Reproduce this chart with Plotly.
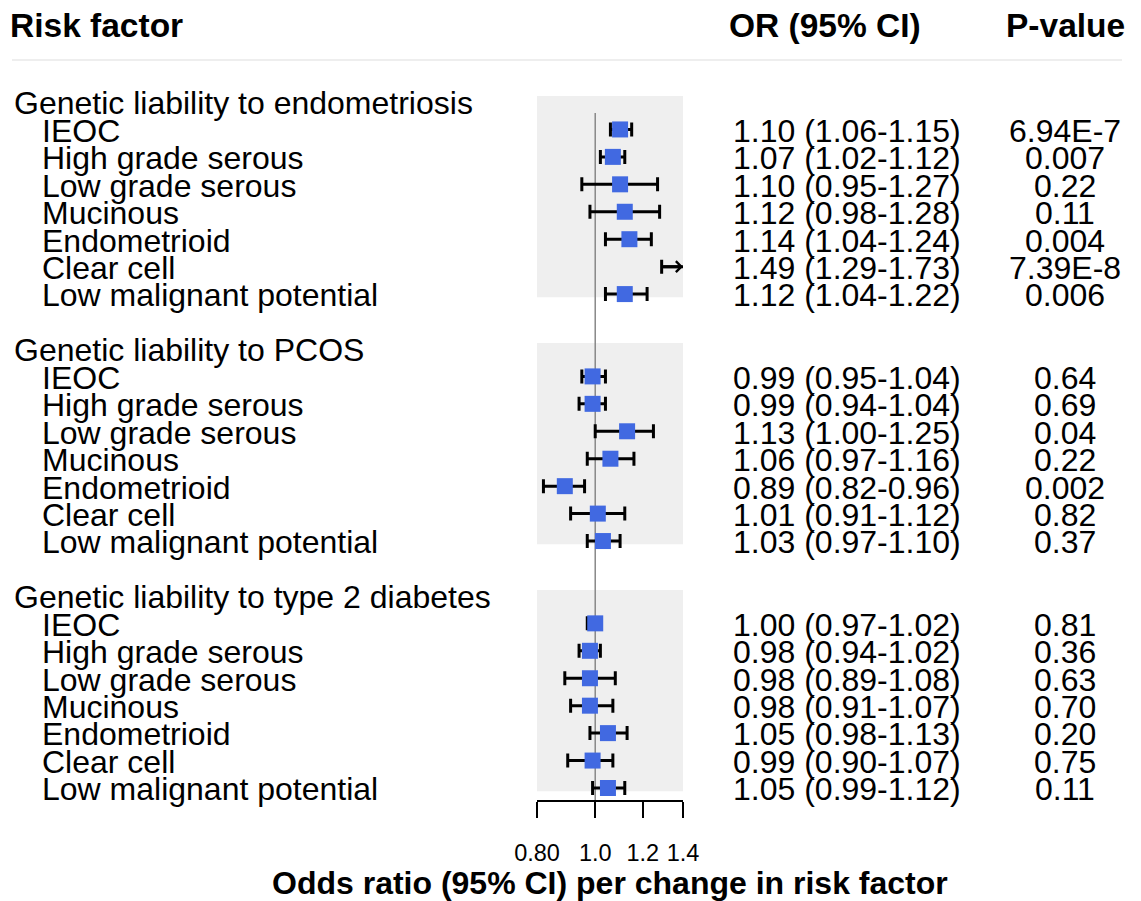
import math
import plotly.graph_objects as go

# ---------------- data ----------------
groups = ["Genetic liability to endometriosis",
          "Genetic liability to PCOS",
          "Genetic liability to type 2 diabetes"]
subtypes = ["IEOC", "High grade serous", "Low grade serous", "Mucinous",
            "Endometrioid", "Clear cell", "Low malignant potential"]

endo_or = [1.10, 1.07, 1.10, 1.12, 1.14, 1.49, 1.12]
endo_lo = [1.06, 1.02, 0.95, 0.98, 1.04, 1.29, 1.04]
endo_hi = [1.15, 1.12, 1.27, 1.28, 1.24, 1.73, 1.22]
endo_p = ["6.94E-7", "0.007", "0.22", "0.11", "0.004", "7.39E-8", "0.006"]

pcos_or = [0.99, 0.99, 1.13, 1.06, 0.89, 1.01, 1.03]
pcos_lo = [0.95, 0.94, 1.00, 0.97, 0.82, 0.91, 0.97]
pcos_hi = [1.04, 1.04, 1.25, 1.16, 0.96, 1.12, 1.10]
pcos_p = ["0.64", "0.69", "0.04", "0.22", "0.002", "0.82", "0.37"]

t2d_or = [1.00, 0.98, 0.98, 0.98, 1.05, 0.99, 1.05]
t2d_lo = [0.97, 0.94, 0.89, 0.91, 0.98, 0.90, 0.99]
t2d_hi = [1.02, 1.02, 1.08, 1.07, 1.13, 1.07, 1.12]
t2d_p = ["0.81", "0.36", "0.63", "0.70", "0.20", "0.75", "0.11"]

tick_vals = [0.8, 1.0, 1.2, 1.4]
tick_text = ["0.80", "1.0", "1.2", "1.4"]
X_MIN, X_MAX = 0.8, 1.4

col_headers = ["Risk factor", "OR (95% CI)", "P-value"]
x_title = "Odds ratio (95% CI) per change in risk factor"

# ---------------- layout constants ----------------
W, H = 1141, 901
OFF = 8                      # page body margin
FONT = "Liberation Sans, Arial, sans-serif"
FS = 32
FSB = 33.5
ROW0 = 102 - OFF             # pixel of first row
ROWH = 27.44                 # row pitch in px
AXIS_PX = 800 - OFF          # x-axis line pixel
ROW_TOP = (0 - ROW0) / ROWH
ROW_BOT = (AXIS_PX - ROW0) / ROWH
TXT_DY = 0.05                # small vertical nudge for text rows

all_or = [endo_or, pcos_or, t2d_or]
all_lo = [endo_lo, pcos_lo, t2d_lo]
all_hi = [endo_hi, pcos_hi, t2d_hi]
all_p = [endo_p, pcos_p, t2d_p]

xs, ys, ep, em = [], [], [], []
annotations = []
shapes = []
arrows = []


def px(v):
    return (v - OFF) / W


def txt(x, y, s, anchor="left", size=FS):
    return dict(x=px(x), y=y, xref="paper", yref="y", text=s,
                xanchor=anchor, yanchor="middle", showarrow=False,
                font=dict(family=FONT, size=size, color="black"))


for gi, gname in enumerate(groups):
    hrow = gi * 9
    annotations.append(txt(12, hrow + TXT_DY, gname))
    shapes.append(dict(type="rect", xref="x domain", yref="y", x0=0, x1=1,
                       y0=hrow - 0.22, y1=hrow + 7.12, fillcolor="#EFEFEF",
                       line=dict(width=0), layer="below"))
    for k, st in enumerate(subtypes):
        r = hrow + 1 + k
        o, lo, hi = all_or[gi][k], all_lo[gi][k], all_hi[gi][k]
        xs.append(o)
        ys.append(r)
        ep.append(hi - o)
        em.append(o - lo)
        if o > X_MAX:
            arrows.append((lo, r))
        annotations.append(txt(40, r + TXT_DY, st))
        annotations.append(txt(731, r + TXT_DY, f"{o:.2f} ({lo:.2f}-{hi:.2f})"))
        annotations.append(txt(1065, r + TXT_DY, all_p[gi][k], anchor="center"))

# column headers
hdr_row = (25 - 102) / ROWH
annotations.append(txt(8, hdr_row, f"<b>{col_headers[0]}</b>", size=FSB))
annotations.append(txt(727, hdr_row, f"<b>{col_headers[1]}</b>", size=FSB))
annotations.append(txt(1065, hdr_row, f"<b>{col_headers[2]}</b>", anchor="center", size=FSB))

# arrows for out-of-range estimates
for lo, r in arrows:
    annotations.append(dict(x=math.log10(X_MAX), y=r, ax=math.log10(lo), ay=r,
                            xref="x", yref="y", axref="x", ayref="y", text="",
                            showarrow=True, arrowhead=4, arrowsize=0.7,
                            arrowwidth=3, arrowcolor="black"))

# header separator line
sep_row = (60 - 102) / ROWH
shapes.append(dict(type="line", xref="paper", yref="y", x0=px(12), x1=px(1122),
                   y0=sep_row, y1=sep_row, line=dict(color="#DDDDDD", width=1)))
# reference line at OR = 1
shapes.append(dict(type="line", xref="x", yref="y", x0=1.0, x1=1.0,
                   y0=0.4, y1=ROW_BOT, line=dict(color="#888888", width=1.5),
                   layer="below"))

fig = go.Figure()
fig.add_trace(go.Scatter(
    x=xs, y=ys, mode="markers",
    marker=dict(symbol="square", size=16, color="#4169E1", line=dict(width=0)),
    error_x=dict(type="data", symmetric=False, array=ep, arrayminus=em,
                 color="black", thickness=3, width=7),
    cliponaxis=True, showlegend=False, hoverinfo="skip"))

# x-axis title as a paper annotation under the axis
annotations.append(dict(x=((537 + 683) / 2 - OFF) / W, y=1 - (883 - OFF) / H,
                        xref="paper", yref="paper", text=f"<b>{x_title}</b>",
                        xanchor="center", yanchor="middle", showarrow=False,
                        font=dict(family=FONT, size=32, color="black")))

fig.update_layout(
    width=W, height=H,
    margin=dict(l=0, r=0, t=0, b=0, autoexpand=False),
    paper_bgcolor="white", plot_bgcolor="white",
    shapes=shapes, annotations=annotations,
    font=dict(family=FONT, color="black"),
    xaxis=dict(type="log", range=[math.log10(X_MIN), math.log10(X_MAX)],
               domain=[(537 - OFF) / W, (683 - OFF) / W], showgrid=False, zeroline=False,
               showline=True, linecolor="black", linewidth=1.5,
               ticks="outside", ticklen=16, tickwidth=1.5, tickcolor="black",
               tickvals=tick_vals, ticktext=tick_text,
               tickfont=dict(family=FONT, size=23.5, color="black"),
               ticklabelstandoff=15, automargin=False),
    yaxis=dict(range=[ROW_BOT, ROW_TOP], domain=[(H - AXIS_PX) / H, 1],
               visible=False, fixedrange=True, automargin=False),
)

fig.write_html("out.html")
